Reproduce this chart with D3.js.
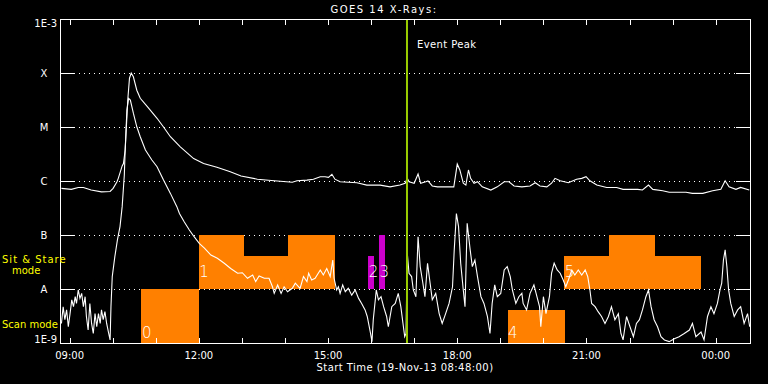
<!DOCTYPE html>
<html>
<head>
<meta charset="utf-8">
<script src="https://cdn.jsdelivr.net/npm/d3@7"></script>
<style>
html, body { margin: 0; padding: 0; background: #000; }
svg text { font-family: "DejaVu Sans", "Liberation Sans", sans-serif; }
</style>
</head>
<body>
<div id="chart"></div>
<script>
const width = 768;
const height = 384;

// times are decimal hours of 19-Nov-13 (values above 24 run into the 20th)
const startHour = 8.8;
const endHour = 24.82;
const peakHour = 16.833;
const hourTicks = d3.range(9, 25);
const labelTicks = [9, 12, 15, 18, 21, 24];

const levelValues = [1e-9, 1e-8, 1e-7, 1e-6, 1e-5, 1e-4, 1e-3];
const levelLabels = ["1E-9", "A", "B", "C", "M", "X", "1E-3"];
const gridValues = [1e-8, 1e-7, 1e-6, 1e-5, 1e-4];

// 1-8 A channel [hour, W/m2]
const longChannel = [
    [8.81, 7.3e-7], [9.04, 7.0e-7], [9.20, 7.6e-7], [9.32, 7.6e-7], [9.50, 6.8e-7],
    [9.74, 6.3e-7], [9.94, 6.4e-7], [10.01, 7.3e-7], [10.10, 9.7e-7], [10.13, 1.12e-6],
    [10.22, 1.9e-6], [10.25, 2.1e-6], [10.29, 3.75e-6], [10.35, 3.16e-5], [10.39, 8.0e-5],
    [10.43, 1.0e-4], [10.48, 8.5e-5], [10.56, 4.8e-5], [10.64, 3.4e-5], [10.80, 2.4e-5],
    [11.03, 1.45e-5], [11.18, 1.0e-5], [11.34, 6.6e-6], [11.57, 4.3e-6], [11.88, 2.6e-6],
    [12.11, 2.1e-6], [12.42, 1.8e-6], [12.73, 1.49e-6], [12.98, 1.24e-6], [13.36, 1.08e-6],
    [13.75, 1.01e-6], [14.17, 9.5e-7], [14.28, 1.01e-6], [14.51, 1.04e-6], [14.66, 1.08e-6],
    [14.82, 1.2e-6], [14.93, 1.2e-6], [15.01, 1.17e-6], [15.09, 1.33e-6], [15.16, 1.08e-6],
    [15.28, 9.7e-7], [15.67, 9.3e-7], [15.90, 8.4e-7], [16.21, 8.4e-7], [16.44, 7.8e-7],
    [16.67, 8.4e-7], [16.79, 9.1e-7], [16.84, 1.12e-6], [16.88, 9.7e-7], [17.00, 9.1e-7],
    [17.09, 1.35e-6], [17.15, 9.1e-7], [17.27, 9.7e-7], [17.32, 1.0e-6], [17.42, 8.1e-7],
    [17.54, 7.8e-7], [17.69, 7.8e-7], [17.92, 7.8e-7], [18.00, 2.06e-6], [18.06, 1.6e-6],
    [18.14, 9.1e-7], [18.20, 8.4e-7], [18.26, 1.6e-6], [18.31, 1.12e-6], [18.39, 9.1e-7],
    [18.47, 9.7e-7], [18.58, 7.8e-7], [18.78, 6.8e-7], [18.93, 7.8e-7], [19.09, 9.7e-7],
    [19.20, 9.7e-7], [19.32, 8.1e-7], [19.50, 7.8e-7], [19.69, 8.1e-7], [19.81, 9.3e-7],
    [19.92, 8.1e-7], [20.08, 7.8e-7], [20.19, 9.1e-7], [20.27, 1.12e-6], [20.39, 1.01e-6],
    [20.58, 9.3e-7], [20.77, 1.08e-6], [20.89, 1.12e-6], [20.99, 1.2e-6], [21.08, 1.01e-6],
    [21.24, 8.4e-7], [21.47, 7.6e-7], [21.70, 7.6e-7], [21.85, 7.0e-7], [22.19, 7.0e-7],
    [22.30, 6.8e-7], [22.44, 8.4e-7], [22.54, 7.0e-7], [22.77, 6.6e-7], [22.92, 6.2e-7],
    [23.31, 6.2e-7], [23.46, 5.9e-7], [23.70, 5.9e-7], [23.93, 6.6e-7], [24.12, 7.0e-7],
    [24.22, 1.01e-6], [24.31, 7.8e-7], [24.47, 7.0e-7], [24.58, 7.6e-7], [24.78, 6.8e-7]
];

// 0.5-4 A channel [hour, W/m2]
const shortChannel = [
    [8.81, 2.3e-9], [8.85, 4.7e-9], [8.89, 2.7e-9], [8.93, 4.1e-9], [8.97, 2.0e-9],
    [9.01, 3.5e-9], [9.05, 6.3e-9], [9.09, 4.7e-9], [9.13, 7.2e-9], [9.16, 5.4e-9],
    [9.20, 9.6e-9], [9.24, 6.7e-9], [9.28, 8.3e-9], [9.32, 4.7e-9], [9.36, 7.2e-9],
    [9.39, 3.1e-9], [9.43, 1.74e-9], [9.47, 5.4e-9], [9.51, 2.3e-9], [9.55, 1.5e-9],
    [9.59, 3.5e-9], [9.63, 2.0e-9], [9.67, 3.5e-9], [9.71, 2.3e-9], [9.74, 4.1e-9],
    [9.78, 2.7e-9], [9.82, 3.8e-9], [9.86, 2.3e-9], [9.90, 1.6e-9], [9.94, 1.14e-9],
    [9.96, 4.7e-9], [9.99, 1.7e-8], [10.05, 3.97e-8], [10.11, 8.1e-8], [10.17, 1.43e-7],
    [10.22, 3.35e-7], [10.27, 1.29e-6], [10.29, 3.75e-6], [10.33, 2.06e-5], [10.37, 3.4e-5],
    [10.41, 3.16e-5], [10.48, 1.8e-5], [10.56, 1.01e-5], [10.64, 6.6e-6], [10.76, 3.75e-6],
    [10.91, 2.45e-6], [11.03, 1.84e-6], [11.18, 1.04e-6], [11.34, 5.9e-7], [11.49, 3.35e-7],
    [11.55, 2.5e-7], [11.66, 1.76e-7], [11.78, 1.24e-7], [11.89, 9.3e-8], [12.01, 7.0e-8],
    [12.13, 5.7e-8], [12.28, 4.26e-8], [12.43, 3.7e-8], [12.59, 3.0e-8], [12.74, 2.4e-8],
    [12.90, 1.96e-8], [13.01, 2.0e-8], [13.13, 1.58e-8], [13.25, 1.82e-8], [13.32, 1.37e-8],
    [13.40, 1.74e-8], [13.52, 1.58e-8], [13.63, 1.58e-8], [13.71, 1.1e-8], [13.75, 8.3e-9],
    [13.83, 1.19e-8], [13.91, 8.3e-9], [13.98, 1.1e-8], [14.06, 8.9e-9], [14.17, 1.03e-8],
    [14.24, 1.28e-8], [14.35, 1.03e-8], [14.43, 1.7e-8], [14.51, 1.37e-8], [14.55, 1.96e-8],
    [14.62, 1.47e-8], [14.70, 1.58e-8], [14.82, 2.25e-8], [14.89, 1.82e-8], [14.97, 2.4e-8],
    [15.05, 1.7e-8], [15.11, 3.44e-8], [15.14, 1.58e-8], [15.20, 9.6e-9], [15.24, 1.1e-8],
    [15.28, 8.3e-9], [15.34, 1.19e-8], [15.40, 8.9e-9], [15.47, 1.03e-8], [15.55, 7.7e-9],
    [15.63, 9.6e-9], [15.71, 6.7e-9], [15.78, 5.4e-9], [15.86, 4.1e-9], [15.91, 3.1e-9],
    [15.98, 1.6e-9], [16.02, 1.06e-9], [16.05, 2.7e-9], [16.12, 9.6e-9], [16.17, 6.3e-9],
    [16.23, 7.2e-9], [16.29, 4.7e-9], [16.36, 3.1e-9], [16.40, 2.0e-9], [16.48, 4.7e-9],
    [16.56, 5.4e-9], [16.63, 8.3e-9], [16.69, 4.7e-9], [16.74, 2.3e-9], [16.78, 1.31e-9],
    [16.81, 1.5e-9], [16.84, 4.6e-8], [16.88, 1.96e-8], [16.94, 1.7e-8], [16.98, 9.6e-9],
    [17.04, 7.2e-9], [17.09, 9.3e-8], [17.14, 2.6e-8], [17.19, 1.47e-8], [17.25, 7.2e-9],
    [17.31, 3.0e-8], [17.37, 1.28e-8], [17.42, 6.3e-9], [17.50, 8.3e-9], [17.58, 3.5e-9],
    [17.65, 2.3e-9], [17.73, 3.5e-9], [17.81, 5.4e-9], [17.89, 1.1e-8], [17.93, 5.3e-8],
    [17.98, 2.5e-7], [18.03, 1.43e-7], [18.08, 3.0e-8], [18.14, 9.6e-9], [18.18, 4.7e-9],
    [18.23, 1.65e-7], [18.30, 5.3e-8], [18.35, 2.6e-8], [18.41, 3.44e-8], [18.47, 1.7e-8],
    [18.55, 7.2e-9], [18.62, 5.4e-9], [18.70, 3.1e-9], [18.76, 1.5e-9], [18.81, 5.4e-9],
    [18.87, 1.19e-8], [18.93, 7.2e-9], [19.01, 8.3e-9], [19.09, 2.25e-8], [19.16, 2.6e-8],
    [19.23, 1.7e-8], [19.28, 9.6e-9], [19.36, 5.4e-9], [19.43, 7.2e-9], [19.50, 8.3e-9],
    [19.53, 5.4e-9], [19.61, 4.1e-9], [19.69, 8.3e-9], [19.78, 1.19e-8], [19.85, 7.2e-9],
    [19.91, 4.7e-9], [19.94, 2.0e-9], [20.00, 7.2e-9], [20.06, 3.5e-9], [20.14, 7.2e-9],
    [20.19, 1.96e-8], [20.25, 3.0e-8], [20.32, 2.25e-8], [20.39, 1.96e-8], [20.46, 1.47e-8],
    [20.52, 1.1e-8], [20.58, 1.47e-8], [20.66, 2.25e-8], [20.73, 1.82e-8], [20.81, 2.25e-8],
    [20.89, 1.82e-8], [20.97, 2.25e-8], [21.03, 1.7e-8], [21.08, 9.6e-9], [21.12, 5.4e-9],
    [21.20, 4.7e-9], [21.27, 3.8e-9], [21.35, 3.1e-9], [21.43, 2.3e-9], [21.51, 3.1e-9],
    [21.58, 4.7e-9], [21.66, 2.7e-9], [21.74, 3.5e-9], [21.80, 1.5e-9], [21.85, 1.14e-9],
    [21.93, 3.1e-9], [22.01, 2.0e-9], [22.09, 1.31e-9], [22.16, 2.3e-9], [22.23, 2.7e-9],
    [22.30, 4.1e-9], [22.38, 7.2e-9], [22.44, 9.6e-9], [22.50, 4.7e-9], [22.57, 2.7e-9],
    [22.65, 2.0e-9], [22.73, 1.31e-9], [22.81, 1.14e-9], [22.92, 1.06e-9], [23.04, 1.2e-9],
    [23.15, 1.31e-9], [23.27, 1.5e-9], [23.39, 1.74e-9], [23.46, 2.3e-9], [23.54, 1.31e-9],
    [23.66, 1.6e-9], [23.73, 1.14e-9], [23.81, 3.1e-9], [23.89, 4.7e-9], [23.96, 3.5e-9],
    [24.04, 5.4e-9], [24.10, 9.6e-9], [24.14, 1.28e-8], [24.18, 3.44e-8], [24.22, 5.3e-8],
    [24.26, 2.6e-8], [24.30, 9.6e-9], [24.35, 5.4e-9], [24.43, 3.1e-9], [24.51, 4.1e-9],
    [24.58, 4.7e-9], [24.66, 2.3e-9], [24.74, 3.5e-9], [24.79, 2.0e-9]
];

// observing blocks: band is "scan" (1E-9..A) or "stare" (A..B), top is the flux the bar reaches
const blocks = [
    {id: 0, kind: "plan", band: "scan",  from: 10.667, to: 12.0,   top: 1e-8},
    {id: 1, kind: "plan", band: "stare", from: 12.0,   to: 13.05,  top: 1e-7},
    {id: 1, kind: "plan", band: "stare", from: 13.05,  to: 14.067, top: 4.1e-8},
    {id: 1, kind: "plan", band: "stare", from: 14.067, to: 15.167, top: 1e-7},
    {id: 2, kind: "alt",  band: "stare", from: 15.933, to: 16.067, top: 4.1e-8},
    {id: 3, kind: "alt",  band: "stare", from: 16.183, to: 16.333, top: 1e-7},
    {id: 4, kind: "plan", band: "scan",  from: 19.167, to: 20.5,   top: 4.1e-9},
    {id: 5, kind: "plan", band: "stare", from: 20.483, to: 21.517, top: 4.1e-8},
    {id: 5, kind: "plan", band: "stare", from: 21.517, to: 22.583, top: 1e-7},
    {id: 5, kind: "plan", band: "stare", from: 22.583, to: 23.65,  top: 4.1e-8}
];

const bandFloor = {scan: 1e-9, stare: 1e-8};
const bandLabelDy = {scan: -5, stare: -12};
const kindColor = {plan: "#ff8000", alt: "#cc00cc"};

const plot = {left: 60, right: 750, top: 19, bottom: 343};

const x = d3.scaleLinear().domain([startHour, endHour]).range([61, 751]);
const y = d3.scaleLog().domain([1e-9, 1e-3]).range([plot.bottom, plot.top]);

const svg = d3.select("#chart")
    .append("svg")
        .attr("width", width)
        .attr("height", height)
        .style("display", "block")
        .style("background", "#000");

svg.append("clipPath")
        .attr("id", "plotclip")
    .append("rect")
        .attr("x", plot.left)
        .attr("y", plot.top)
        .attr("width", plot.right - plot.left)
        .attr("height", plot.bottom - plot.top);

// dotted level lines
svg.append("g")
        .attr("stroke", "#fff")
        .attr("stroke-dasharray", "1,4")
    .selectAll("line")
    .data(gridValues)
    .join("line")
        .attr("x1", plot.left + 14)
        .attr("x2", plot.right - 14)
        .attr("y1", d => Math.round(y(d)) + 0.5)
        .attr("y2", d => Math.round(y(d)) + 0.5);

// observing blocks
svg.append("g")
        .attr("shape-rendering", "crispEdges")
    .selectAll("rect")
    .data(blocks)
    .join("rect")
        .attr("x", d => Math.round(x(d.from)))
        .attr("width", d => Math.round(x(d.to)) - Math.round(x(d.from)))
        .attr("y", d => Math.round(y(d.top)))
        .attr("height", d => Math.round(y(bandFloor[d.band])) - Math.round(y(d.top)))
        .attr("fill", d => kindColor[d.kind]);

// curves
const line = d3.line()
    .x(d => x(d[0]))
    .y(d => y(d[1]));

svg.append("g")
        .attr("clip-path", "url(#plotclip)")
        .attr("fill", "none")
        .attr("stroke", "#fff")
        .attr("stroke-width", 1.1)
    .selectAll("path")
    .data([longChannel, shortChannel])
    .join("path")
        .attr("d", line);

// block numbers, on the first piece of every block
const firstPieces = blocks.filter((d, i) => i == 0 || blocks[i - 1].id != d.id);
svg.append("g")
        .attr("fill", "#fff")
        .attr("font-size", 15)
        .attr("font-weight", 200)
    .selectAll("text")
    .data(firstPieces)
    .join("text")
        .attr("x", d => x(d.from) + 0.5)
        .attr("y", d => y(bandFloor[d.band]) + bandLabelDy[d.band])
        .text(d => d.id);

// event peak
svg.append("line")
    .attr("x1", x(peakHour))
    .attr("x2", x(peakHour))
    .attr("y1", plot.top)
    .attr("y2", plot.bottom)
    .attr("stroke", "#99cc00")
    .attr("stroke-width", 2);

svg.append("text")
    .attr("x", x(peakHour) + 10)
    .attr("y", 48)
    .attr("fill", "#fff")
    .attr("font-size", 10)
    .attr("letter-spacing", 0.4)
    .text("Event Peak");

// frame
svg.append("rect")
    .attr("x", plot.left + 0.5)
    .attr("y", plot.top + 0.5)
    .attr("width", plot.right - plot.left)
    .attr("height", plot.bottom - plot.top)
    .attr("fill", "none")
    .attr("stroke", "#fff");

// level ticks, both sides
const ticks = svg.append("g")
        .attr("stroke", "#fff")
        .attr("shape-rendering", "crispEdges");
ticks.selectAll("line.yl")
    .data(levelValues)
    .join("line")
        .attr("class", "yl")
        .attr("x1", plot.left)
        .attr("x2", plot.left + 14)
        .attr("y1", d => Math.round(y(d)) + 0.5)
        .attr("y2", d => Math.round(y(d)) + 0.5);
ticks.selectAll("line.yr")
    .data(levelValues)
    .join("line")
        .attr("class", "yr")
        .attr("x1", plot.right - 14)
        .attr("x2", plot.right)
        .attr("y1", d => Math.round(y(d)) + 0.5)
        .attr("y2", d => Math.round(y(d)) + 0.5);

// hour ticks, top and bottom
ticks.selectAll("line.xb")
    .data(hourTicks)
    .join("line")
        .attr("class", "xb")
        .attr("x1", d => Math.round(x(d)) + 0.5)
        .attr("x2", d => Math.round(x(d)) + 0.5)
        .attr("y1", plot.bottom)
        .attr("y2", plot.bottom - 5);
ticks.selectAll("line.xt")
    .data(hourTicks)
    .join("line")
        .attr("class", "xt")
        .attr("x1", d => Math.round(x(d)) + 0.5)
        .attr("x2", d => Math.round(x(d)) + 0.5)
        .attr("y1", plot.top)
        .attr("y2", plot.top + 6);

// hour labels
const hourFmt = h => String(h % 24).padStart(2, "0") + ":00";
svg.append("g")
        .attr("fill", "#fff")
        .attr("font-size", 10)
        .attr("text-anchor", "middle")
    .selectAll("text")
    .data(labelTicks)
    .join("text")
        .attr("x", d => x(d))
        .attr("y", 359)
        .text(hourFmt);

// level labels
svg.append("g")
        .attr("fill", "#fff")
        .attr("font-size", 10)
    .selectAll("text")
    .data(levelValues)
    .join("text")
        .attr("text-anchor", (d, i) => levelLabels[i].length > 1 ? "end" : "middle")
        .attr("x", (d, i) => levelLabels[i].length > 1 ? 57 : 44)
        .attr("y", (d, i) => {
            if (i == 0) return y(d);
            if (i == levelValues.length - 1) return y(d) + 8;
            return y(d) + 4;
        })
        .text((d, i) => levelLabels[i]);

// mode labels
const modeText = svg.append("g")
        .attr("fill", "#ffff00")
        .attr("font-size", 10);
modeText.append("text")
    .attr("x", 2).attr("y", 263)
    .attr("letter-spacing", 1)
    .text("Sit & Stare");
modeText.append("text")
    .attr("x", 12).attr("y", 274)
    .text("mode");
modeText.append("text")
    .attr("x", 2).attr("y", 328)
    .text("Scan mode");

// title and x title
svg.append("text")
    .attr("x", 384)
    .attr("y", 13)
    .attr("text-anchor", "middle")
    .attr("fill", "#fff")
    .attr("font-size", 10)
    .attr("letter-spacing", 1.5)
    .text("GOES 14 X-Rays:");

svg.append("text")
    .attr("x", (plot.left + plot.right) / 2)
    .attr("y", 371)
    .attr("text-anchor", "middle")
    .attr("fill", "#fff")
    .attr("font-size", 10)
    .attr("letter-spacing", 0.45)
    .text("Start Time (19-Nov-13 08:48:00)");
</script>
</body>
</html>
